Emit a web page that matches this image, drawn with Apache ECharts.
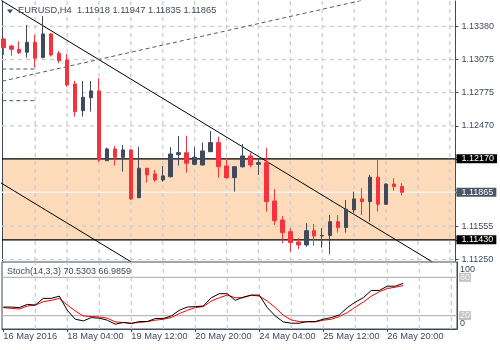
<!DOCTYPE html>
<html><head><meta charset="utf-8">
<script src="https://cdn.jsdelivr.net/npm/echarts@6/dist/echarts.min.js"></script>
<style>html,body{margin:0;padding:0;background:#fff}#c{width:500px;height:350px}</style>
</head><body><div id="c"></div>
<script>
const symbolName = 'EURUSD,H4';
// candle index 0 = 16 May 2016 20:00 (H4 bars)
const opens  = [1.13264,1.13200,1.13170,1.13143,1.13234,1.13094,1.13310,1.13134,1.13073,1.12854,1.12610,1.12728,1.12790,1.12153,1.12260,1.12184,1.12251,1.11815,1.12084,1.12032,1.11977,1.12007,1.12208,1.12226,1.12120,1.12114,1.12235,1.12318,1.12105,1.11998,1.12098,1.12196,1.12120,1.12135,1.11785,1.11612,1.11505,1.11411,1.11384,1.11514,1.11466,1.11470,1.11596,1.11542,1.11703,1.11804,1.11779,1.12002,1.11755,1.11940,1.11918];
const highs  = [1.13273,1.13212,1.13243,1.13392,1.13301,1.13474,1.13319,1.13155,1.13127,1.12881,1.12881,1.12881,1.12906,1.12272,1.12287,1.12297,1.12257,1.12281,1.12084,1.12068,1.12105,1.12276,1.12379,1.12381,1.12276,1.12318,1.12424,1.12372,1.12175,1.12102,1.12306,1.12226,1.12175,1.12272,1.11892,1.11648,1.11536,1.11445,1.11582,1.11575,1.11536,1.11657,1.11657,1.11794,1.11870,1.11901,1.12023,1.12169,1.11947,1.11993,1.11947];
const lows   = [1.13118,1.13112,1.13127,1.13094,1.13006,1.13088,1.13103,1.13043,1.12829,1.12555,1.12555,1.12601,1.12139,1.12148,1.12108,1.12053,1.11794,1.11810,1.11952,1.11961,1.11961,1.11998,1.12108,1.12044,1.12111,1.12108,1.12232,1.11998,1.11986,1.11870,1.12089,1.12093,1.12023,1.11688,1.11566,1.11399,1.11322,1.11347,1.11368,1.11377,1.11359,1.11301,1.11496,1.11496,1.11673,1.11657,1.11596,1.11688,1.11749,1.11879,1.11835];
const closes = [1.13185,1.13170,1.13139,1.13234,1.13088,1.13310,1.13118,1.13066,1.12844,1.12601,1.12732,1.12790,1.12160,1.12260,1.12184,1.12251,1.11804,1.12084,1.12023,1.11977,1.12014,1.12214,1.12226,1.12129,1.12184,1.12242,1.12318,1.12098,1.11998,1.12098,1.12196,1.12114,1.12135,1.11779,1.11605,1.11496,1.11405,1.11384,1.11514,1.11466,1.11470,1.11596,1.11542,1.11710,1.11804,1.11779,1.12002,1.11755,1.11940,1.11916,1.11865];

const stochK = [33.4,33.4,32.5,37.6,36.5,47.0,47.0,50.5,28.3,14.3,11.7,16.9,15.9,12.8,6.5,9.2,7.6,10.7,10.7,15.4,15.4,19.4,28.3,33.4,34.1,35.0,48.0,54.3,54.3,43.9,49.0,52.1,52.1,32.5,19.4,10.1,8.1,8.1,10.7,10.7,14.3,16.9,21.0,32.5,41.2,48.0,59.4,59.4,66.1,66.1,70.5303];
const stochD = [32.5,31.4,30.3,35.0,36.5,41.8,43.9,47.0,36.5,27.2,19.4,18.5,17.9,15.9,10.1,9.2,8.1,9.2,10.7,12.8,14.3,16.9,23.2,28.3,32.5,34.1,42.8,48.0,52.1,48.0,48.0,52.1,50.5,42.8,32.5,20.5,13.2,10.7,10.1,10.1,12.8,14.3,18.5,24.7,33.4,41.2,50.5,57.4,62.5,64.5,66.9859];

const timeTickIdx = [0,8,16,24,32,40,48];
const timeTickLabels = ['16 May 2016','18 May 04:00','19 May 12:00','20 May 20:00','24 May 04:00','25 May 12:00','26 May 20:00'];
const gridX = [4,8,12,16,20,24,28,32,36,40,44,48,52,56];
const gridY = [1.13380,1.13075,1.12775,1.12470,1.11555,1.11250];
const priceTicks = [1.13380,1.13075,1.12775,1.12470,1.12170,1.11865,1.11555,1.11430,1.11250];
const zoneTop = 1.12170;
const zoneBottom = 1.11430;
const bidPrice = 1.11865;
const stochLevels = [20,80];

// drawn trend lines (candle index, price)
const channelUpper = [[-1,1.13649],[57,1.11088]];
const channelLower = [[-1,1.11981],[20,1.11054]];
const risingDashed = [[-1,1.12865],[50,1.13699]];
const oldLevelA = [[-1,1.12990],[4,1.12990]];
const oldLevelB = [[-1,1.12701],[4,1.12701]];

const FONT = '"Liberation Sans", Arial, sans-serif';
const TXT = '#3e4a5a';
const BULL = '#3f4b5c', BEAR = '#f5333f';
const XMIN = -0.1625, XMAX = 56.7125;
const YMIN = 1.11237, YMAX = 1.13611;
const SMIN = -1, SMAX = 104;

const candleData = opens.map((o,i)=>[i, o, closes[i], lows[i], highs[i]]);
const kData = stochK.map((v,i)=>[i,v]);
const dData = stochD.map((v,i)=>[i,v]);
const last = opens.length-1;
const titleText = symbolName + '  ' + [opens[last],highs[last],lows[last],closes[last]].map(v=>v.toFixed(5)).join(' ');
const stochText = 'Stoch(14,3,3) ' + stochK[last].toFixed(4) + ' ' + stochD[last].toFixed(4);

function gridLineStyle(){ return {color:'#cdcdcd',type:[4,4],width:1.3}; }
function seg(id, pts, style, z, xi, yi){
  return {id:id,type:'line',xAxisIndex:xi,yAxisIndex:yi,data:pts,symbol:'none',showSymbol:false,z:z,silent:true,
    lineStyle:style,emphasis:{disabled:true},animation:false};
}
const helperSeries = []
  .concat(gridY.map((v,i)=>seg('gy'+i,[[XMIN,v],[XMAX,v]],gridLineStyle(),2,0,0)))
  .concat(gridX.map((v,i)=>seg('gx'+i,[[v,YMIN],[v,YMAX]],gridLineStyle(),2,0,0)))
  .concat([seg('bid',[[XMIN,bidPrice],[XMAX,bidPrice]],{color:'#f4f4f4',width:1.5,type:'solid'},3,0,0)])
  .concat([zoneTop,zoneBottom].map((v,i)=>seg('lvl'+i,[[XMIN,v],[XMAX,v]],{color:'#000',width:1.3,type:'solid'},3,0,0)))
  .concat(gridX.map((v,i)=>seg('sgx'+i,[[v,SMIN],[v,SMAX]],gridLineStyle(),2,1,2)))
  .concat(stochLevels.map((v,i)=>seg('slv'+i,[[XMIN,v],[XMAX,v]],{color:'#b8b8b8',width:1.3,type:'solid'},3,1,2)));

const chart = echarts.init(document.getElementById('c'));
const yLab = {fontSize:9,fontFamily:FONT,color:TXT};
chart.setOption({
  animation:false,
  backgroundColor:'#ffffff',
  textStyle:{fontFamily:FONT},
  graphic:[
    {type:'polygon',shape:{points:[[7,9.5],[13,9.5],[10,13.5]]},style:{fill:TXT},z:100},
    {type:'text',left:18,top:6,z:100,style:{text:titleText,fill:TXT,font:'9.3px "Liberation Sans", Arial, sans-serif'}},
    {type:'text',left:7,top:267,z:100,style:{text:stochText,fill:TXT,font:'9px "Liberation Sans", Arial, sans-serif'}}
  ],
  grid:[
    {left:2,top:1,width:455,height:260,show:false},
    {left:2,top:262,width:455,height:67,show:true,borderColor:TXT,borderWidth:1,backgroundColor:'transparent'}
  ],
  xAxis:[
    {type:'value',gridIndex:0,min:XMIN,max:XMAX,axisLine:{show:false,onZero:false},axisTick:{show:false},axisLabel:{show:false},splitLine:{show:false}},
    {type:'value',gridIndex:1,min:XMIN,max:XMAX,axisLine:{show:true,onZero:false,lineStyle:{color:TXT}},
      axisTick:{show:true,length:3,customValues:timeTickIdx,lineStyle:{color:TXT}},
      axisLabel:{customValues:timeTickIdx,formatter:v=>timeTickLabels[timeTickIdx.indexOf(v)],align:'left',margin:3,fontSize:9.3,color:TXT,fontFamily:FONT,hideOverlap:false},
      splitLine:{show:false}}
  ],
  yAxis:[
    {type:'value',gridIndex:0,position:'right',min:YMIN,max:YMAX,
      axisLine:{show:true,onZero:false,lineStyle:{color:TXT}},
      axisTick:{show:true,length:3,customValues:priceTicks,lineStyle:{color:TXT}},
      axisLabel:{customValues:priceTicks,margin:1,fontSize:9,fontFamily:FONT,color:TXT,hideOverlap:false,
        formatter:v=>{const s=v.toFixed(5); if(v===zoneTop||v===zoneBottom) return '{blk|'+s+'}'; if(v===bidPrice) return '{bid|'+s+'}'; return '{n|'+s+'}';},
        rich:{
          n:Object.assign({padding:[0,3,0,5],lineHeight:10},yLab),
          blk:Object.assign({},yLab,{color:'#ffffff',backgroundColor:'#000000',padding:[0,3,0,5],lineHeight:10}),
          bid:Object.assign({},yLab,{color:'#ffffff',backgroundColor:'#4a5566',padding:[0,3,0,5],lineHeight:10})
        }},
      splitLine:{show:false}},
    {type:'value',gridIndex:0,position:'left',min:YMIN,max:YMAX,axisLine:{show:true,onZero:false,lineStyle:{color:TXT}},axisTick:{show:false},axisLabel:{show:false},splitLine:{show:false}},
    {type:'value',gridIndex:1,position:'right',min:SMIN,max:SMAX,
      axisLine:{show:true,onZero:false,lineStyle:{color:TXT}},axisTick:{show:false},
      axisLabel:{customValues:stochLevels,margin:2,hideOverlap:false,formatter:v=>'{g|'+v+'}',
        rich:{g:Object.assign({},yLab,{color:'#f4f4f4',backgroundColor:'#c3c3c3',padding:[0,1,0,1],lineHeight:9})}},
      splitLine:{show:false}},
    {type:'value',gridIndex:1,position:'right',min:SMIN,max:SMAX,
      axisLine:{show:false,onZero:false},axisTick:{show:false},
      axisLabel:{customValues:[100],margin:3,verticalAlign:'top',fontSize:9,fontFamily:FONT,color:TXT,hideOverlap:false,showMinLabel:true,showMaxLabel:true},
      splitLine:{show:false}},
    {type:'value',gridIndex:1,position:'right',min:SMIN,max:SMAX,
      axisLine:{show:false,onZero:false},axisTick:{show:false},
      axisLabel:{customValues:[0],margin:3,verticalAlign:'bottom',fontSize:9,fontFamily:FONT,color:TXT,hideOverlap:false,showMinLabel:true,showMaxLabel:true},
      splitLine:{show:false}}
  ],
  series:[
    {id:'chUp',type:'line',xAxisIndex:0,yAxisIndex:0,data:channelUpper,symbol:'none',z:4,silent:true,lineStyle:{color:'#000',width:1},
      markArea:{silent:true,z:-1,itemStyle:{color:'#fddab9'},data:[[{yAxis:zoneTop},{yAxis:zoneBottom}]]}},
    {id:'chLo',type:'line',xAxisIndex:0,yAxisIndex:0,data:channelLower,symbol:'none',z:4,silent:true,lineStyle:{color:'#000',width:1}},
    {id:'rise',type:'line',xAxisIndex:0,yAxisIndex:0,data:risingDashed,symbol:'none',z:4,silent:true,lineStyle:{color:'#5a5a5a',width:1,type:[4,3]}},
    {id:'oldA',type:'line',xAxisIndex:0,yAxisIndex:0,data:oldLevelA,symbol:'none',z:4,silent:true,lineStyle:{color:'#5a5a5a',width:1,type:[4,3]}},
    {id:'oldB',type:'line',xAxisIndex:0,yAxisIndex:0,data:oldLevelB,symbol:'none',z:4,silent:true,lineStyle:{color:'#5a5a5a',width:1,type:[4,3]}},
    {id:'EURUSD',type:'candlestick',xAxisIndex:0,yAxisIndex:0,data:candleData,encode:{x:0,y:[1,2,3,4]},barWidth:4,z:5,
      itemStyle:{color:BULL,color0:BEAR,borderColor:BULL,borderColor0:BEAR,borderWidth:1}},
    {id:'stochD',type:'line',xAxisIndex:1,yAxisIndex:2,data:dData,symbol:'none',z:4,silent:true,lineStyle:{color:'#ff0000',width:1}},
    {id:'stochK',type:'line',xAxisIndex:1,yAxisIndex:2,data:kData,symbol:'none',z:5,silent:true,lineStyle:{color:'#000000',width:1}}
  ].concat(helperSeries)
});
</script></body></html>
